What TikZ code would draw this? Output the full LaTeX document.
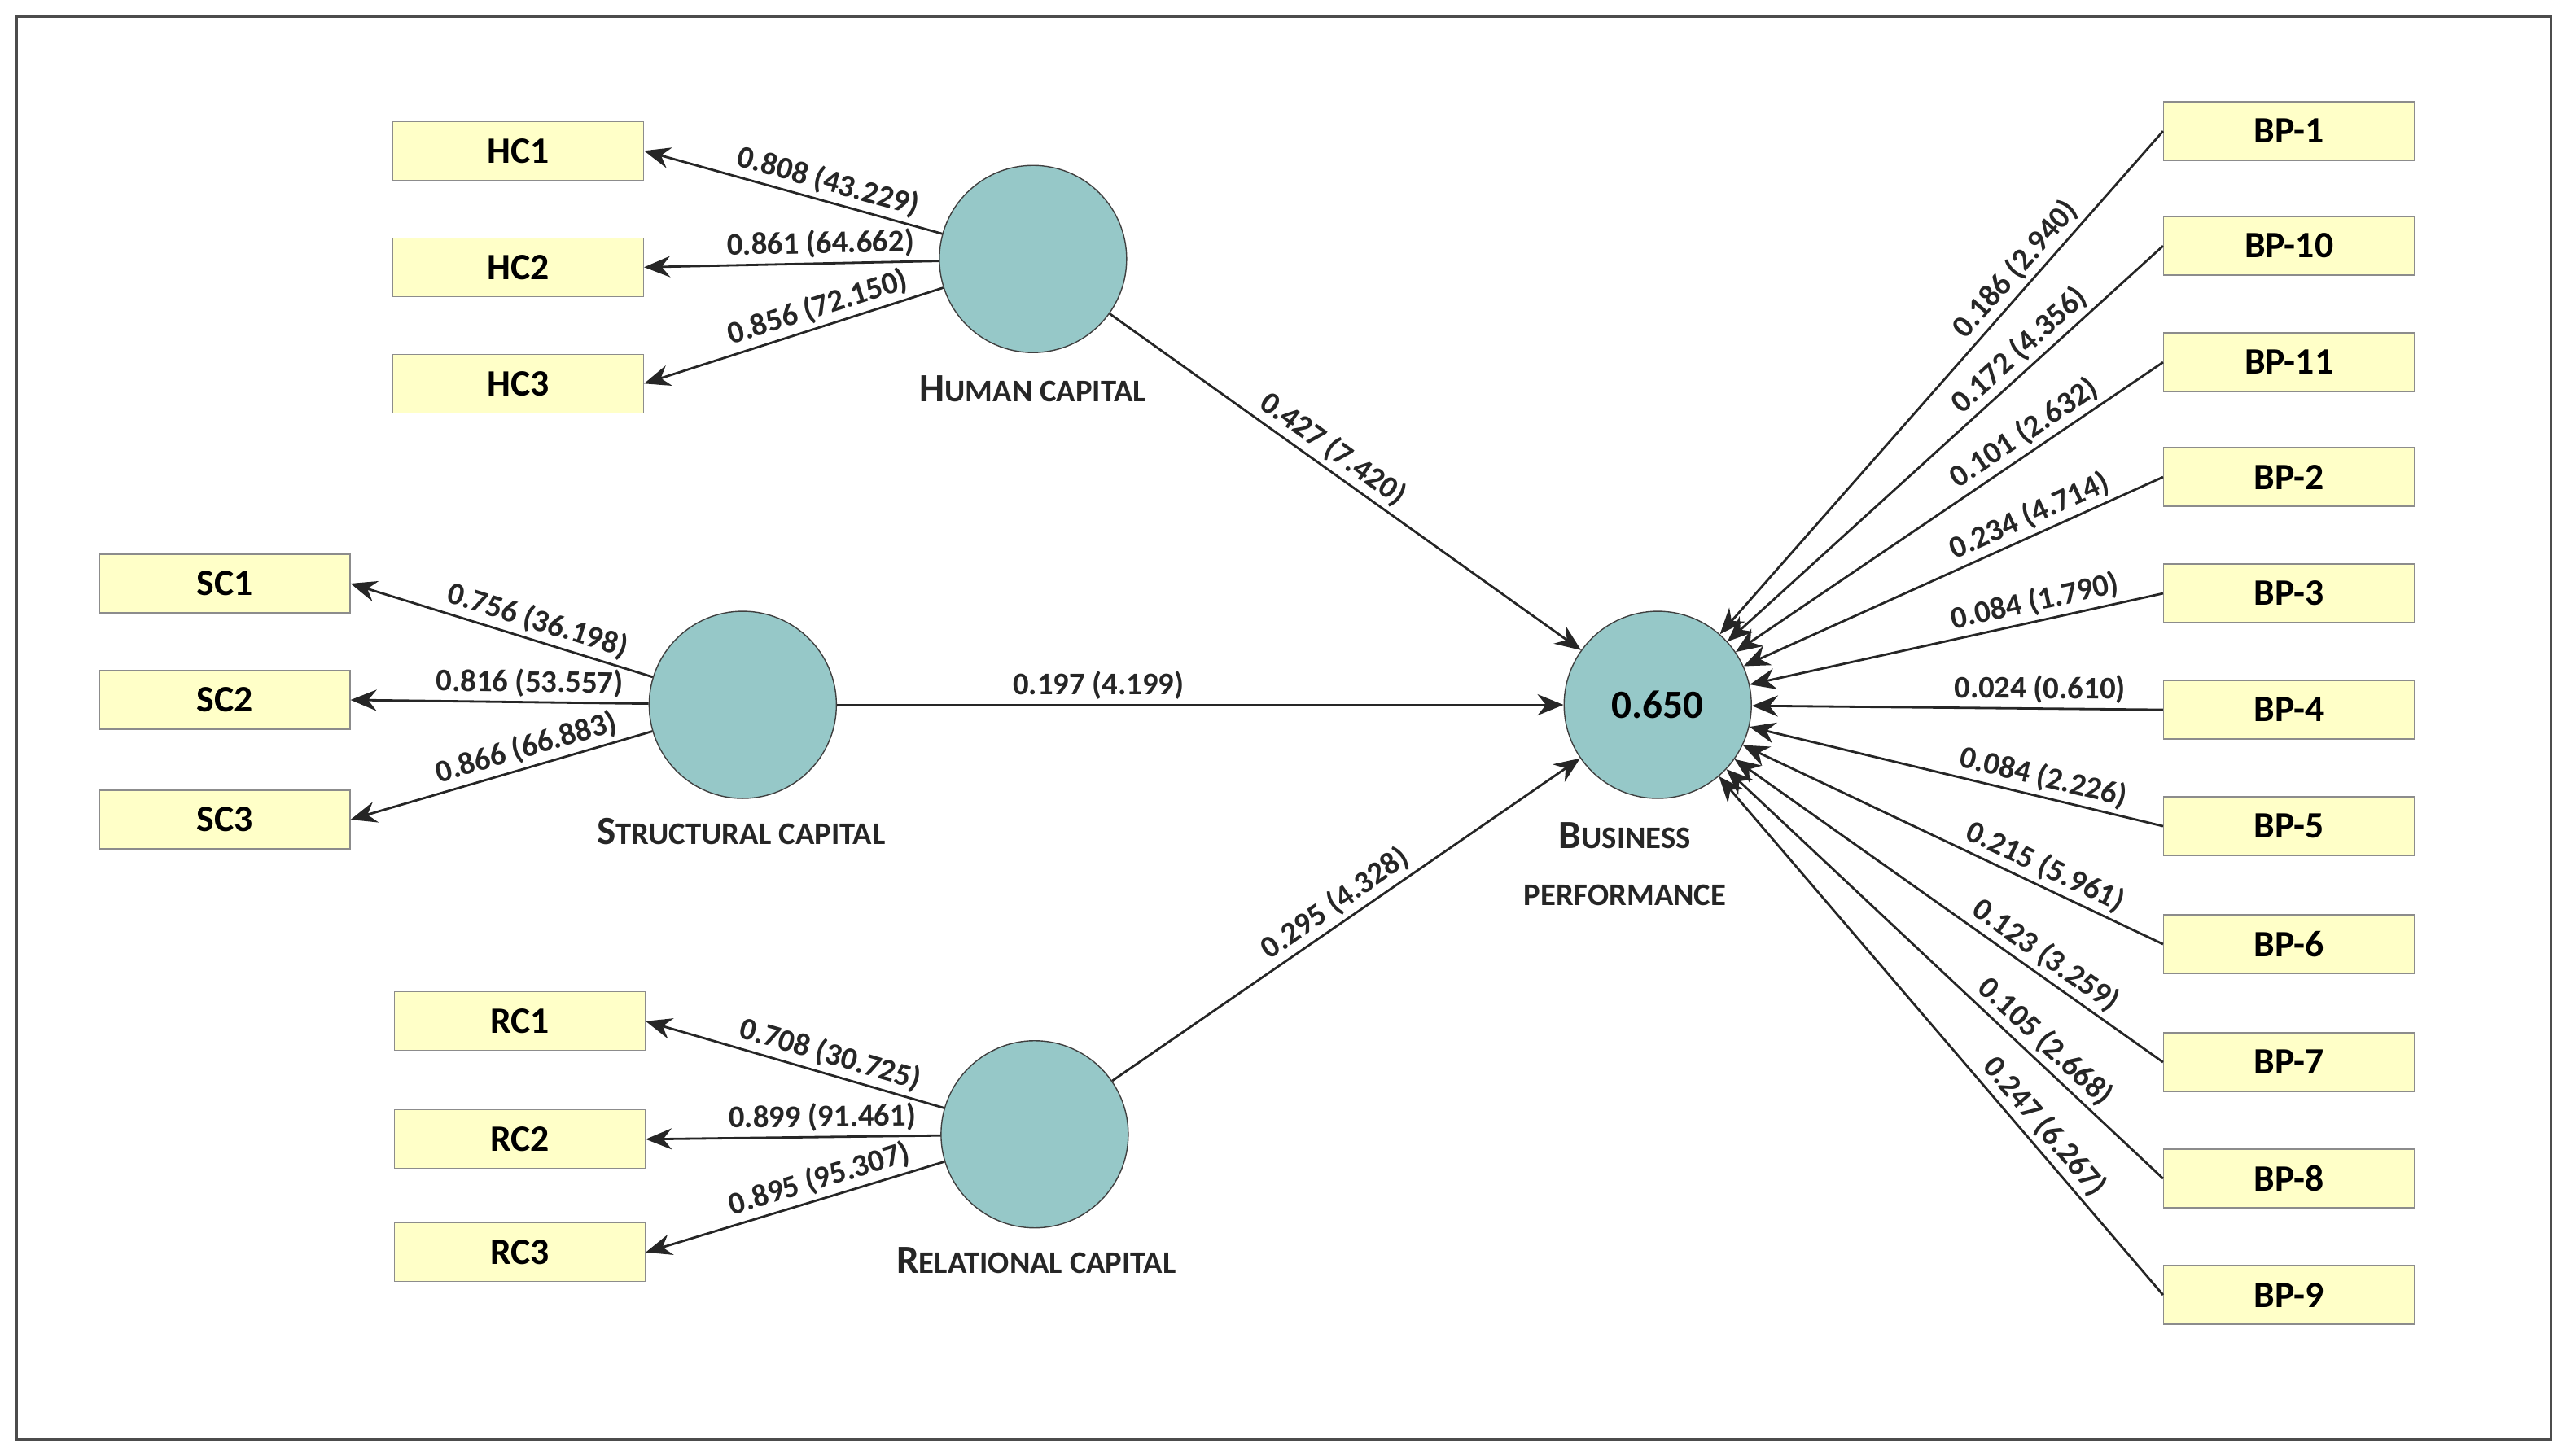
\documentclass[tikz,border=0pt]{standalone}
\usepackage{fontspec}
\setmainfont{Carlito}
\usetikzlibrary{arrows.meta}
\definecolor{boxfill}{HTML}{FFFFC8}
\definecolor{lvfill}{HTML}{96C8C8}
\newcommand{\sccap}[2]{\textbf{#1{\fontsize{11}{13}\selectfont #2}}}
\begin{document}
\begin{tikzpicture}[x=0.02014cm,y=-0.02014cm,
  ind/.style={draw=black!45,fill=boxfill,minimum width=3.08cm,minimum height=0.72cm,font=\fontsize{13}{15}\selectfont\bfseries},
  lv/.style={circle,draw=black!75,fill=lvfill,minimum size=2.3cm,font=\fontsize{14}{16}\selectfont\bfseries},
  lbl/.style={font=\fontsize{14}{16}\selectfont\bfseries,text=black!85},
  link/.style={thick,black!85,-{Stealth[length=3.2mm,width=2.6mm]}},
  wt/.style={sloped,above,inner sep=1.5pt,font=\fontsize{11}{12}\selectfont\bfseries,text=black!85}]
\useasboundingbox (0,0) rectangle (1568,888);
\draw[black!70,thick] (10,10) rectangle (1556,878);

% latent variables
\node[lv] (hc) at (630,158) {};
\node[lv] (sc) at (453,430) {};
\node[lv] (rc) at (631,692) {};
\node[lv] (bp) at (1011,430) {0.650};

\node[lbl] at (630,237) {\sccap{H}{UMAN CAPITAL}};
\node[lbl] at (452,507) {\sccap{S}{TRUCTURAL CAPITAL}};
\node[lbl] at (632,769) {\sccap{R}{ELATIONAL CAPITAL}};
\node[lbl] at (991,510) {\sccap{B}{USINESS}};
\node[lbl] at (991,546) {\sccap{}{PERFORMANCE}};

% indicators
\foreach \n/\y in {1/92,2/163,3/234} \node[ind] (hc\n) at (316,\y) {HC\n};
\foreach \n/\y in {1/356,2/427,3/500} \node[ind] (sc\n) at (137,\y) {SC\n};
\foreach \n/\y in {1/623,2/695,3/764} \node[ind] (rc\n) at (317,\y) {RC\n};
\foreach \n/\y in {1/80,10/150,11/221,2/291,3/362,4/433,5/504,6/576,7/648,8/719,9/790}
  \node[ind] (bp\n) at (1396,\y) {BP-\n};

% loadings
\foreach \n/\w in {1/0.808 (43.229),2/0.861 (64.662),3/0.856 (72.150)}
  \draw[link] (hc) -- (hc\n.east) node[wt,pos=0.4] {\w};
\foreach \n/\w in {1/0.756 (36.198),2/0.816 (53.557),3/0.866 (66.883)}
  \draw[link] (sc) -- (sc\n.east) node[wt,pos=0.4] {\w};
\foreach \n/\w in {1/0.708 (30.725),2/0.899 (91.461),3/0.895 (95.307)}
  \draw[link] (rc) -- (rc\n.east) node[wt,pos=0.4] {\w};
\foreach \n/\w in {1/0.186 (2.940),10/0.172 (4.356),11/0.101 (2.632),2/0.234 (4.714),
  3/0.084 (1.790),4/0.024 (0.610),5/0.084 (2.226),6/0.215 (5.961),7/0.123 (3.259),
  8/0.105 (2.668),9/0.247 (6.267)}
  \draw[link] (bp\n.west) -- (bp) node[wt,pos=0.3] {\w};

% paths
\draw[link] (hc) -- (bp) node[wt,pos=0.45] {0.427 (7.420)};
\draw[link] (sc) -- (bp) node[wt,pos=0.36] {0.197 (4.199)};
\draw[link] (rc) -- (bp) node[wt,pos=0.5] {0.295 (4.328)};
\end{tikzpicture}
\end{document}
